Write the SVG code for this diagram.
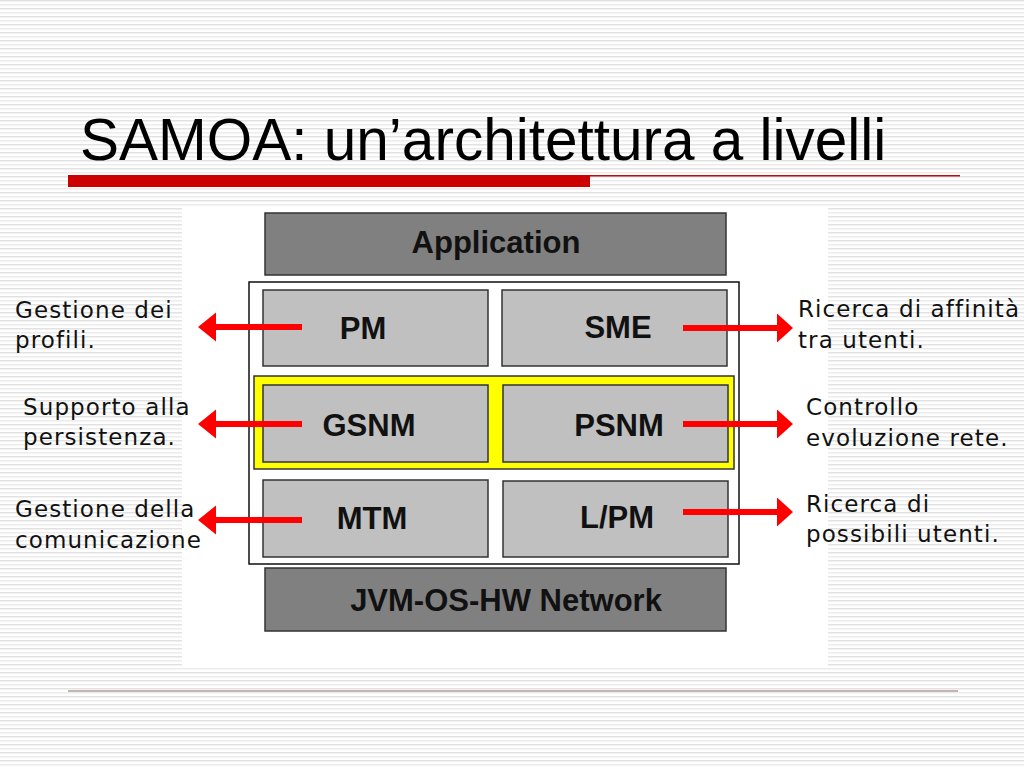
<svg xmlns="http://www.w3.org/2000/svg" width="1024" height="768" viewBox="0 0 1024 768">
<defs>
<pattern id="stripes" x="0" y="0" width="8" height="8" patternUnits="userSpaceOnUse">
<rect x="0" y="0" width="8" height="8" fill="#ffffff"/>
<rect x="0" y="0" width="8" height="1.5" fill="#e2e2e2"/>
<rect x="0" y="4" width="8" height="1.5" fill="#ececec"/>
</pattern>
<style>
.box{stroke:#333333;stroke-width:1.5}
.dark{fill:#808080}
.light{fill:#c0c0c0}
.bt{font-family:"Liberation Sans",Arial,sans-serif;font-weight:bold;font-size:31px;fill:#111111;text-anchor:middle}
.lab{font-family:"DejaVu Sans",Verdana,sans-serif;font-size:23px;fill:#111111;letter-spacing:1.1px}
.arr{fill:#ff0000}
</style>
</defs>
<rect width="1024" height="768" fill="url(#stripes)"/>
<!-- title -->
<text x="80" y="160" font-family="'Liberation Sans',Arial,sans-serif" font-size="58.5" fill="#000000">SAMOA: un’architettura a livelli</text>
<rect x="68" y="175" width="522" height="12" fill="#cc0000"/>
<rect x="590" y="175" width="370" height="1.5" fill="#b01010"/>
<rect x="68" y="690" width="890" height="2" fill="#c4b4b4"/>
<!-- panel -->
<rect x="182" y="207" width="646" height="461" fill="#ffffff"/>
<g id="frame"><rect x="249" y="282" width="490" height="282" fill="#ffffff" stroke="#111111" stroke-width="1.5"/></g>
<g id="persist"><rect x="254" y="376" width="480" height="93" fill="#ffff00" stroke="#333333" stroke-width="1.5"/></g>
<g id="application"><rect class="box dark" x="265" y="213" width="461" height="62"/><text class="bt" x="496" y="253" font-size="32">Application</text></g>
<g id="pm"><rect class="box light" x="263" y="290" width="225" height="76"/><text class="bt" x="363" y="339">PM</text></g>
<g id="sme"><rect class="box light" x="502" y="290" width="225" height="76"/><text class="bt" x="618" y="338">SME</text></g>
<g id="gsnm"><rect class="box light" x="263" y="385" width="225" height="77"/><text class="bt" x="369" y="436">GSNM</text></g>
<g id="psnm"><rect class="box light" x="503" y="385" width="225" height="77"/><text class="bt" x="619" y="436">PSNM</text></g>
<g id="mtm"><rect class="box light" x="263" y="480" width="225" height="77"/><text class="bt" x="372" y="529">MTM</text></g>
<g id="lpm"><rect class="box light" x="503" y="481" width="225" height="76"/><text class="bt" x="617" y="528">L/PM</text></g>
<g id="jvm"><rect class="box dark" x="265" y="568" width="461" height="63"/><text class="bt" x="506" y="611">JVM-OS-HW Network</text></g>
<!-- connectors -->
<g id="connectors">
<path class="arr" d="M302,324 L216,324 L216,312.5 L198,327 L216,341.5 L216,330 L302,330 Z"/>
<path class="arr" d="M302,421 L216,421 L216,409.5 L198,424 L216,438.5 L216,427 L302,427 Z"/>
<path class="arr" d="M302,517 L216,517 L216,505.5 L198,520 L216,534.5 L216,523 L302,523 Z"/>
<path class="arr" d="M683,325 L777,325 L777,313.5 L793,328 L777,342.5 L777,331 L683,331 Z"/>
<path class="arr" d="M683,421 L777,421 L777,409.5 L793,424 L777,438.5 L777,427 L683,427 Z"/>
<path class="arr" d="M683,509 L777,509 L777,497.5 L793,512 L777,526.5 L777,515 L683,515 Z"/>
</g>
<!-- labels -->
<g id="label-left">
<text class="lab" x="15" y="318">Gestione dei</text>
<text class="lab" x="15" y="348">profili.</text>
<text class="lab" x="23" y="415">Supporto alla</text>
<text class="lab" x="23" y="445">persistenza.</text>
<text class="lab" x="15" y="517">Gestione della</text>
<text class="lab" x="15" y="548">comunicazione</text>
</g>
<g id="label-right">
<text class="lab" x="798" y="317">Ricerca di affinità</text>
<text class="lab" x="798" y="348">tra utenti.</text>
<text class="lab" x="806" y="415">Controllo</text>
<text class="lab" x="806" y="446">evoluzione rete.</text>
<text class="lab" x="806" y="512">Ricerca di</text>
<text class="lab" x="806" y="542">possibili utenti.</text>
</g>
</svg>
